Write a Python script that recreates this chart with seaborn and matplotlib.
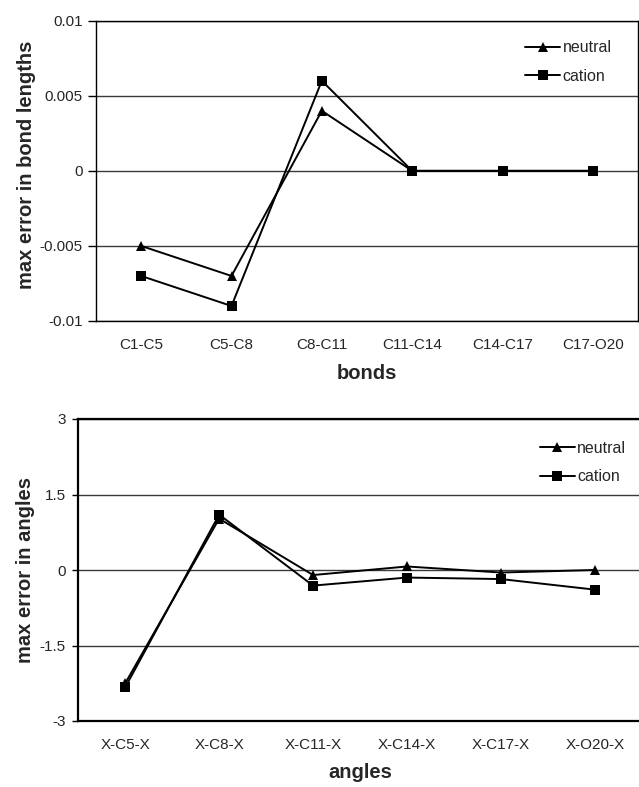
import matplotlib
matplotlib.use("Agg")
import matplotlib.pyplot as plt
import matplotlib.ticker as mticker
import seaborn as sns
import pandas as pd

bonds = ["C1-C5", "C5-C8", "C8-C11", "C11-C14", "C14-C17", "C17-O20"]
bond_neutral = [-0.005, -0.007, 0.004, 0.0, 0.0, 0.0]
bond_cation = [-0.007, -0.009, 0.006, 0.0, 0.0, 0.0]

angles = ["X-C5-X", "X-C8-X", "X-C11-X", "X-C14-X", "X-C17-X", "X-O20-X"]
angle_neutral = [-2.25, 1.02, -0.1, 0.07, -0.05, 0.0]
angle_cation = [-2.33, 1.1, -0.31, -0.15, -0.18, -0.39]

series = ["neutral", "cation"]

sns.set_style("white")
plt.rcParams["font.family"] = ["Liberation Sans", "DejaVu Sans"]

fig = plt.figure(figsize=(6.39, 7.87), dpi=100)
ax1 = fig.add_axes([96 / 639, (787 - 321) / 787, 542 / 639, 300.3 / 787])
ax2 = fig.add_axes([78.3 / 639, (787 - 721) / 787, 563.4 / 639, 302 / 787])


def make_df(cats, neu, cat):
    return pd.DataFrame({
        "cat": cats + cats,
        "value": neu + cat,
        "series": ["neutral"] * len(cats) + ["cation"] * len(cats),
    })


def draw(ax, cats, neu, cat, lim, ticks, ylabel, xlabel, spine_lw,
         leg_anchor, tick_len, tick_pad, ylab_xy, xlab_pad):
    df = make_df(cats, neu, cat)
    for t in ticks:
        ax.axhline(t, color="#3a3a3a", lw=1.0, zorder=0)
    sns.lineplot(data=df, x="cat", y="value", style="series", style_order=series,
                 markers={"neutral": "^", "cation": "s"}, dashes=False,
                 color="black", lw=1.4, markersize=6.5, markeredgewidth=0,
                 ax=ax, sort=False)
    ax.set_xlim(-0.5, len(cats) - 0.5)
    ax.set_ylim(*lim)
    ax.set_yticks(ticks)
    ax.yaxis.set_major_formatter(mticker.FuncFormatter(lambda v, p: "%g" % v))
    ax.tick_params(axis="y", length=tick_len, width=1, color="black",
                   labelsize=11, pad=tick_pad, left=True)
    ax.tick_params(axis="x", length=0, labelsize=11, pad=12.5)
    ax.set_ylabel(ylabel, fontsize=14.5, fontweight="bold")
    ax.yaxis.set_label_coords(*ylab_xy)
    ax.set_xlabel(xlabel, fontsize=14.5, fontweight="bold", labelpad=xlab_pad)
    for s in ax.spines.values():
        s.set_visible(True)
        s.set_color("black")
        s.set_linewidth(spine_lw)
    leg = ax.legend(loc="upper left", bbox_to_anchor=leg_anchor, frameon=False,
                    fontsize=11.5, handlelength=2.2, handletextpad=0.15,
                    labelspacing=0.85, borderpad=0)
    for h in leg.legend_handles:
        h.set_color("black")


draw(ax1, bonds, bond_neutral, bond_cation, (-0.01, 0.01),
     [-0.01, -0.005, 0, 0.005, 0.01], "max error in bond lengths", "bonds",
     1.0, (0.777, 0.962), 6, 3.5, (-0.111, 0.52), 8.5)
draw(ax2, angles, angle_neutral, angle_cation, (-3, 3),
     [-3, -1.5, 0, 1.5, 3], "max error in angles", "angles",
     1.6, (0.805, 0.955), 4, 5, (-0.077, 0.5), 8)

fig.savefig("out.png", dpi=100)
